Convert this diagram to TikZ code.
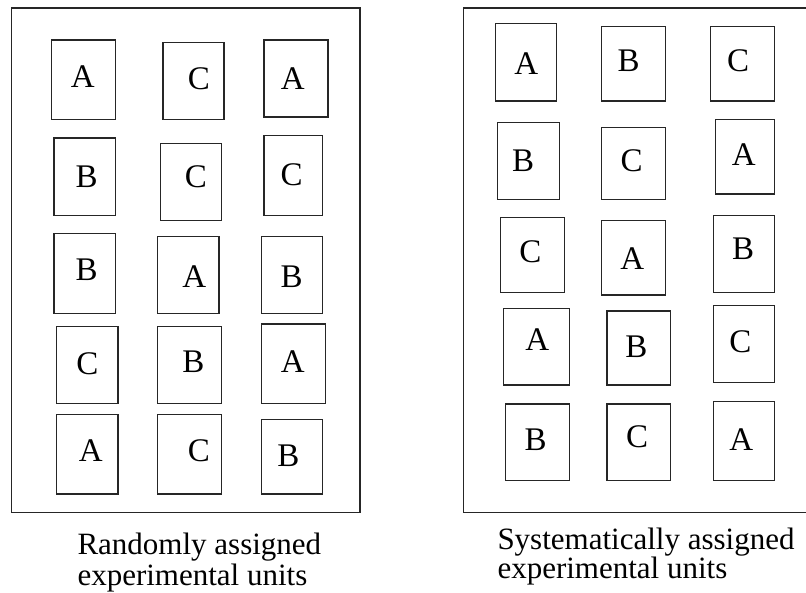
\documentclass[tikz,border=0pt]{standalone}
\usepackage{fontspec}
\setmainfont{Liberation Serif}
\usetikzlibrary{fit}
\tikzset{
  frame/.style={draw=black!85, line width=1.2pt, inner sep=0pt},
  unitbox/.style={draw=black!85, line width=1.2pt, inner sep=0pt},
  letter/.style={inner sep=0pt, font=\fontsize{33}{38}\selectfont},
  caption/.style={inner sep=0pt, anchor=base west, font=\fontsize{31}{36}\selectfont},
}
\newcommand{\ubox}[8]{%
  \node[unitbox, fit={(#2,#3) (#4,#5)}] (#1) {};
  \node[letter] (#1l) at (#6,#7) {#8};
}
\begin{document}
\begin{tikzpicture}[x=1pt,y=-1pt]
\useasboundingbox (0,0) rectangle (806,593);
\clip (0,0) rectangle (806,593);
% left frame
\node[frame, fit={(11.3,8) (360,512.3)}] (leftframe) {};
% left boxes
\ubox{L11}{51.3}{40}{115.3}{119.3}{82.7}{76.7}{A}
\ubox{L12}{163}{42.7}{224}{119.3}{199}{79}{C}
\ubox{L13}{264}{40}{328}{117}{292.7}{79}{A}
\ubox{L21}{54}{138}{115.3}{215.3}{86.7}{176.7}{B}
\ubox{L22}{160.3}{143.3}{221.3}{220.3}{196}{176.7}{C}
\ubox{L23}{264}{135.3}{322.7}{215.3}{291.7}{175}{C}
\ubox{L31}{54}{233.7}{115.3}{313.3}{86.7}{270}{B}
\ubox{L32}{157.7}{236.3}{219}{313.3}{194.3}{276.7}{A}
\ubox{L33}{261.3}{236.3}{322.7}{313.3}{291.7}{276.7}{B}
\ubox{L41}{56.7}{326.7}{118}{403.7}{87.3}{363.3}{C}
\ubox{L42}{157.7}{326.7}{221.3}{403.7}{193.3}{361.7}{B}
\ubox{L43}{261.3}{324}{325.3}{403.7}{292.7}{361.7}{A}
\ubox{L51}{56.7}{414.7}{118}{494}{90.7}{450.7}{A}
\ubox{L52}{157.7}{414.7}{221.3}{494}{199}{450.7}{C}
\ubox{L53}{261.3}{419.7}{322.7}{494}{288.3}{456}{B}
% right frame (right edge cut off by the image border)
\node[frame, fit={(463.3,8) (815,512.3)}] (rightframe) {};
% right boxes
\ubox{R11}{495.3}{23.7}{556.7}{101}{526.3}{63.3}{A}
\ubox{R12}{601.7}{26.3}{665.3}{101}{628.7}{60.7}{B}
\ubox{R13}{710.7}{26.3}{774.3}{101}{738}{60.7}{C}
\ubox{R21}{497.7}{122.3}{559.3}{199.3}{523}{161}{B}
\ubox{R22}{601.7}{127.3}{665.3}{199.3}{631.7}{161}{C}
\ubox{R23}{715.7}{119.3}{774.3}{194}{743.7}{155}{A}
\ubox{R31}{500.3}{217.7}{564.7}{292.3}{530.3}{251.7}{C}
\ubox{R32}{601.7}{220.3}{665.3}{295}{632.3}{258.3}{A}
\ubox{R33}{713.3}{215.3}{774.3}{292.3}{743}{248.3}{B}
\ubox{R41}{503.3}{308.3}{569.7}{385}{537.3}{339.3}{A}
\ubox{R42}{607}{311}{670.3}{385}{636.3}{346.7}{B}
\ubox{R43}{713.3}{305.3}{774.3}{382.3}{740.3}{341.7}{C}
\ubox{R51}{505.7}{404}{569.7}{480.7}{535.7}{439.3}{B}
\ubox{R52}{607}{404}{670.3}{480.7}{637}{436.7}{C}
\ubox{R53}{713.3}{401.3}{774.3}{480.7}{741.3}{439.3}{A}
% captions
\node[caption] (lcap1) at (77.3,554) {Randomly assigned};
\node[caption] (lcap2) at (77.3,585) {experimental units};
\node[caption] (rcap1) at (497.3,549) {Systematically assigned};
\node[caption] (rcap2) at (497.3,578) {experimental units};
\end{tikzpicture}
\end{document}
